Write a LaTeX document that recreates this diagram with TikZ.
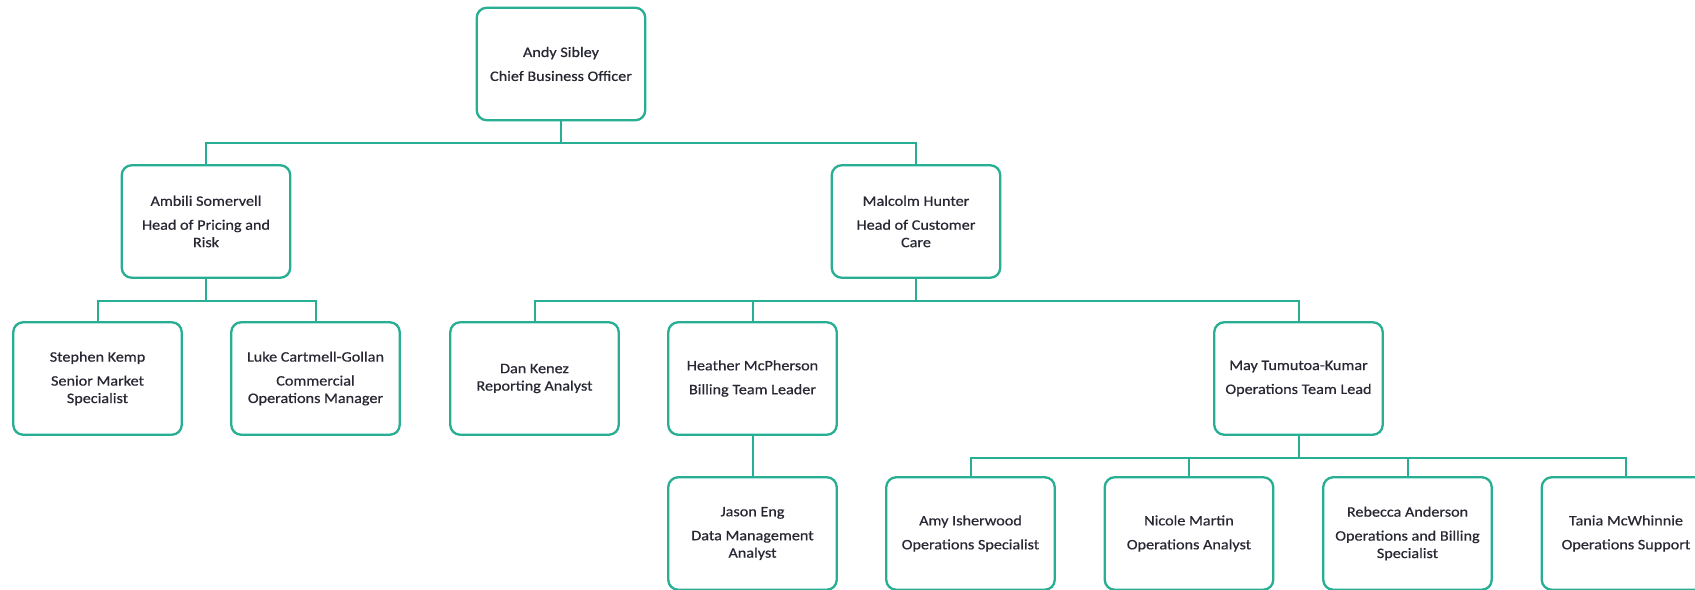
\documentclass[tikz,border=0pt]{standalone}
\usepackage{fontspec}
\setmainfont{Carlito}[FakeStretch=1.12,FakeBold=0.6]
\definecolor{teal1}{RGB}{40,174,146}
\definecolor{txt}{RGB}{40,40,52}
\begin{document}
\begin{tikzpicture}[x=1bp,y=-1bp,
  person/.style={draw=teal1, line width=2.3bp, rounded corners=10bp, fill=white,
    minimum width=168.5bp, minimum height=112.5bp, inner sep=0pt, align=center,
    text=txt, font=\fontsize{14.5}{17.5}\selectfont},
  link/.style={draw=teal1, line width=2bp}]
\useasboundingbox (0,0) rectangle (1695,590);
\clip (0,0) rectangle (1695,590);
% row 1
\node[person] (andy) at (561,64) {Andy Sibley\\[6.5bp]Chief Business Officer};
% row 2
\node[person] (ambili) at (206,221.5) {Ambili Somervell\\[6.5bp]Head of Pricing and\\Risk};
\node[person] (malcolm) at (916,221.5) {Malcolm Hunter\\[6.5bp]Head of Customer\\Care};
% row 3
\node[person] (stephen) at (97.5,378.5) {Stephen Kemp\\[6.5bp]Senior Market\\Specialist};
\node[person] (luke) at (315.5,378.5) {Luke Cartmell-Gollan\\[6.5bp]Commercial\\Operations Manager};
\node[person] (dan) at (534.5,378.5) {Dan Kenez\\Reporting Analyst};
\node[person] (heather) at (752.5,378.5) {Heather McPherson\\[6.5bp]Billing Team Leader};
\node[person] (may) at (1298.5,378.5) {May Tumutoa-Kumar\\[6.5bp]Operations Team Lead};
% row 4
\node[person] (jason) at (752.5,533.5) {Jason Eng\\[6.5bp]Data Management\\Analyst};
\node[person] (amy) at (970.5,533.5) {Amy Isherwood\\[6.5bp]Operations Specialist};
\node[person] (nicole) at (1189,533.5) {Nicole Martin\\[6.5bp]Operations Analyst};
\node[person] (rebecca) at (1407.5,533.5) {Rebecca Anderson\\[6.5bp]Operations and Billing\\Specialist};
\node[person] (tania) at (1626,533.5) {Tania McWhinnie\\[6.5bp]Operations Support};
% connectors
\draw[link] (andy.south) -- ++(0,22) -| (ambili.north);
\draw[link] (andy.south) -- ++(0,22) -| (malcolm.north);
\draw[link] (ambili.south) -- ++(0,22) -| (stephen.north);
\draw[link] (ambili.south) -- ++(0,22) -| (luke.north);
\draw[link] (malcolm.south) -- ++(0,22) -| (dan.north);
\draw[link] (malcolm.south) -- ++(0,22) -| (heather.north);
\draw[link] (malcolm.south) -- ++(0,22) -| (may.north);
\draw[link] (heather.south) -- (jason.north);
\draw[link] (may.south) -- ++(0,22) -| (amy.north);
\draw[link] (may.south) -- ++(0,22) -| (nicole.north);
\draw[link] (may.south) -- ++(0,22) -| (rebecca.north);
\draw[link] (may.south) -- ++(0,22) -| (tania.north);
\end{tikzpicture}
\end{document}
